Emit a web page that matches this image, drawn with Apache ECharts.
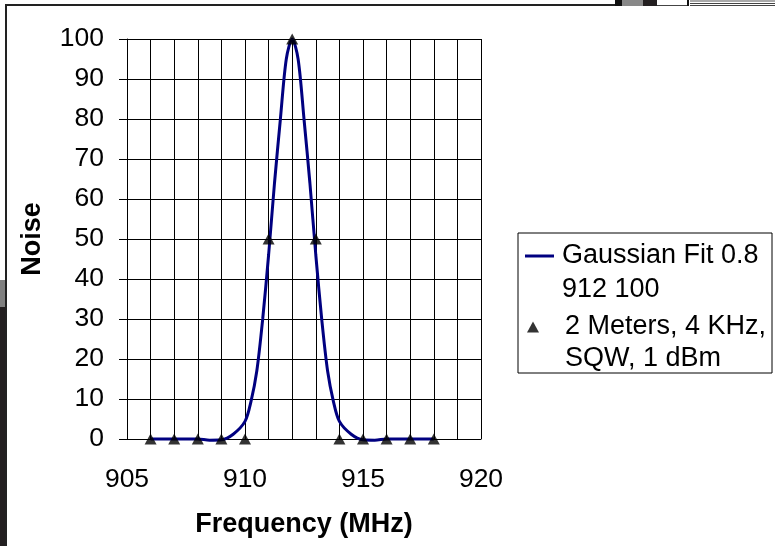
<!DOCTYPE html>
<html><head><meta charset="utf-8">
<script src="https://cdn.jsdelivr.net/npm/echarts@6/dist/echarts.min.js"></script>
<style>html,body{margin:0;padding:0;background:#fff}#c{width:775px;height:546px}</style>
</head><body><div id="c"></div>
<script>
// Gaussian fit curve
const fitX = [906,906.5,907,907.5,908,908.5,909,909.5,910,910.25,910.5,910.75,911,911.25,911.5,911.75,912,912.25,912.5,912.75,913,913.25,913.5,913.75,914,914.5,915,915.5,916,916.5,917,917.5,918];
const fitY = [0,0,0,0,0,-0.3,-0.2,1.2,4.4,9.3,17,30,46,64,80,95,100,95,80,64,46,30,17,9.3,4.4,1.2,-0.2,-0.3,0,0,0,0,0];
// Measured points
const measX = [906,907,908,909,910,911,912,913,914,915,916,917,918];
const measY = [0,0,0,0,0,50,100,50,0,0,0,0,0];
const xTickLabels = [905,910,915,920];
const fitName = 'Gaussian Fit 0.8\n912 100';
const measName = '2 Meters, 4 KHz,\nSQW, 1 dBm';

const FONT = "'Liberation Sans', Arial, sans-serif";
const chart = echarts.init(document.getElementById('c'), null, {renderer:'canvas'});
const option = {
  backgroundColor: '#fff',
  animation: false,
  grid: {left:127, right:294, top:39, bottom:107, containLabel:false},
  xAxis: {
    type:'value', min:905, max:920, interval:1,
    name:'Frequency (MHz)', nameLocation:'middle', nameGap:86,
    nameTextStyle:{fontFamily:FONT, fontWeight:'bold', fontSize:27, color:'#000', verticalAlign:'middle'},
    axisLine:{show:true, onZero:false, lineStyle:{color:'#000', width:1}},
    axisTick:{show:false},
    axisLabel:{fontFamily:FONT, fontSize:26.5, color:'#000', margin:27,
      formatter: v => xTickLabels.indexOf(Math.round(v)) >= 0 && Math.abs(v-Math.round(v))<1e-6 ? String(Math.round(v)) : ''},
    splitLine:{show:true, lineStyle:{color:'#000', width:1}}
  },
  yAxis: {
    type:'value', min:0, max:100, interval:10,
    name:'Noise', nameLocation:'middle', nameGap:94, nameRotate:90,
    nameTextStyle:{fontFamily:FONT, fontWeight:'bold', fontSize:27, color:'#000', verticalAlign:'middle'},
    axisLine:{show:true, lineStyle:{color:'#000', width:1}},
    axisTick:{show:true, inside:false, length:8, lineStyle:{color:'#000'}},
    axisLabel:{fontFamily:FONT, fontSize:26.5, color:'#000', margin:23},
    splitLine:{show:true, lineStyle:{color:'#000', width:1}}
  },
  legend: [
    {data:[{name:fitName, icon:'rect'}], left:525, top:205, padding:0, orient:'vertical',
     itemWidth:29, itemHeight:3,
     formatter: n => '\n' + n,
     textStyle:{fontFamily:FONT, fontSize:27, color:'#000', lineHeight:34, padding:[0,0,0,3]}},
    {data:[{name:measName, icon:'triangle'}], left:527, top:279, padding:0, orient:'vertical',
     itemWidth:12, itemHeight:11,
     formatter: n => '\n' + n,
     textStyle:{fontFamily:FONT, fontSize:27, color:'#000', lineHeight:32, padding:[0,0,0,21]}}
  ],
  graphic: [
    {type:'rect', shape:{x:518, y:233, width:254, height:140}, style:{fill:null, stroke:'#000', lineWidth:1}, silent:true},
    {type:'rect', shape:{x:5, y:4, width:611, height:2}, style:{fill:'#222'}, silent:true},
    {type:'rect', shape:{x:5, y:4, width:2, height:542}, style:{fill:'#222'}, silent:true},
    {type:'rect', shape:{x:0, y:280, width:5, height:27}, style:{fill:'#808080'}, silent:true},
    {type:'rect', shape:{x:0, y:307, width:5, height:239}, style:{fill:'#231f20'}, silent:true},
    {type:'rect', shape:{x:615, y:0, width:7, height:6}, style:{fill:'#111'}, silent:true},
    {type:'rect', shape:{x:622, y:0, width:21, height:6}, style:{fill:'#888'}, silent:true},
    {type:'rect', shape:{x:643, y:0, width:14, height:6}, style:{fill:'#231f20'}, silent:true},
    {type:'rect', shape:{x:657, y:5, width:31, height:1}, style:{fill:'#444'}, silent:true},
    {type:'rect', shape:{x:687, y:0, width:2, height:6}, style:{fill:'#111'}, silent:true},
    {type:'rect', shape:{x:690, y:0, width:85, height:2}, style:{fill:'#aaa'}, silent:true},
    {type:'rect', shape:{x:690, y:3, width:85, height:1}, style:{fill:'#444'}, silent:true},
    {type:'rect', shape:{x:690, y:5, width:85, height:1}, style:{fill:'#444'}, silent:true}
  ],
  series: [
    {name:fitName, type:'line', data: fitX.map((x,i)=>[x, fitY[i]]),
     smooth:0.3, symbol:'none', clip:false, z:2,
     lineStyle:{color:'#000080', width:3}, itemStyle:{color:'#000080'}},
    {name:measName, type:'scatter', data: measX.map((x,i)=>[x, measY[i]]),
     symbol:'triangle', symbolSize:[12,11], clip:false, z:3,
     itemStyle:{color:'#000'}}
  ]
};
chart.setOption(option);
</script>
</body></html>
